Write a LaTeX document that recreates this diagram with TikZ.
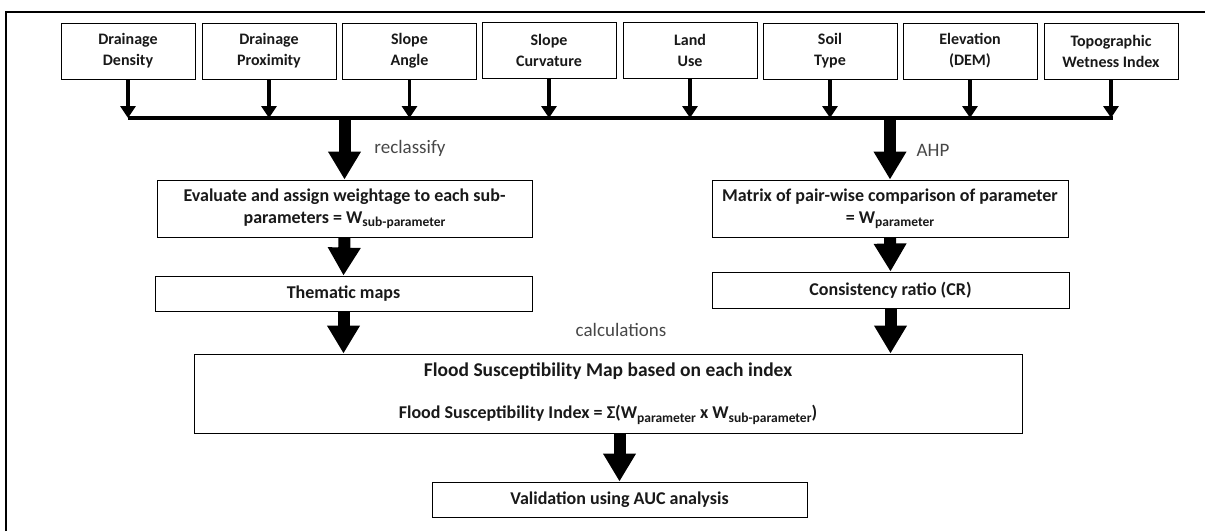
\documentclass[tikz,border=0pt]{standalone}
\usepackage{fontspec}
\setmainfont{Carlito}
\usetikzlibrary{arrows.meta}
\newcommand{\lowsub}[1]{\raisebox{-3.5pt}{\fontsize{13.5}{14}\selectfont #1}}
\begin{document}
\begin{tikzpicture}[x=1pt,y=-1pt,
  box/.style={draw=black,line width=0.9pt,fill=white,align=center,inner sep=2pt,
    text=black!90,font=\bfseries\fontsize{18}{22}\selectfont},
  topbox/.style={box,minimum width=134pt,minimum height=56pt,font=\bfseries\fontsize{16}{21}\selectfont},
  smallarrow/.style={line width=3.6pt,-{Triangle[width=15pt,length=12pt]}},
  bigarrow/.style={line width=12pt,-{Triangle[width=31pt,length=28pt]}},
  lbl/.style={font=\fontsize{19}{22}\selectfont,text=black!72}]
\useasboundingbox (0,0) rectangle (1205,531);
% frame
\draw[line width=2.5pt] (6,531) -- (6,12) -- (1205,12);
% top boxes
\node[topbox] (b1) at (128,51) {Drainage\\Density};
\node[topbox] (b2) at (269,51) {Drainage\\Proximity};
\node[topbox] (b3) at (409.5,51) {Slope\\Angle};
\node[topbox] (b4) at (549,50) {Slope\\Curvature};
\node[topbox] (b5) at (690,50) {Land\\Use};
\node[topbox] (b6) at (830,51) {Soil\\Type};
\node[topbox] (b7) at (970,51) {Elevation\\(DEM)};
\node[topbox] (b8) at (1111,51) {Topographic\\Wetness Index};
% collector
\coordinate (busL) at (128,118);
\coordinate (busR) at (1113,118);
\draw[line width=4pt] (busL) -- (busR);
\foreach \b in {b1,b2,b3,b4,b5,b6,b7,b8}
  \draw[smallarrow] (\b.south) -- (\b.south |- busL);
% middle boxes
\node[box,minimum width=375pt,minimum height=57pt] (eval) at (344.5,208.5)
  {Evaluate and assign weightage to each sub-\\parameters = W\lowsub{sub-parameter}};
\node[box,minimum width=377pt,minimum height=35pt] (them) at (343.5,293.5) {Thematic maps};
\node[box,minimum width=356pt,minimum height=57pt] (matr) at (890,208.5)
  {Matrix of pair-wise comparison of parameter\\= W\lowsub{parameter}};
\node[box,minimum width=357pt,minimum height=36pt] (cons) at (890.5,290) {Consistency ratio (CR)};
\node[box,minimum width=828pt,minimum height=79pt] (flood) at (608,393.5)
  {{\fontsize{19.5}{22}\selectfont Flood Susceptibility Map based on each index}\\[20pt]
   Flood Susceptibility Index = Σ(W\lowsub{parameter} x W\lowsub{sub-parameter})};
\node[box,minimum width=375pt,minimum height=35pt] (valid) at (619.5,499.5) {Validation using AUC analysis};
% big arrows
\draw[bigarrow] (eval.north |- busL) -- (eval.north);
\draw[bigarrow] (matr.north |- busL) -- (matr.north);
\draw[bigarrow] (eval.south) -- (them.north);
\draw[bigarrow] (matr.south) -- (cons.north);
\draw[bigarrow] (them.south) -- (them.south |- flood.north);
\draw[bigarrow] (cons.south) -- (cons.south |- flood.north);
\draw[bigarrow] (valid.north |- flood.south) -- (valid.north);
% labels
\node[lbl] (l1) at (410,148) {reclassify};
\node[lbl] (l2) at (933,150) {AHP};
\node[lbl] (l3) at (621,330) {calculations};
\end{tikzpicture}
\end{document}
